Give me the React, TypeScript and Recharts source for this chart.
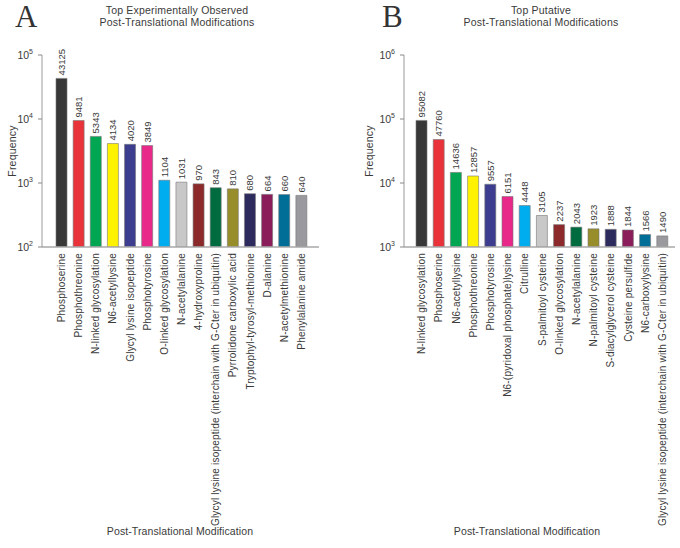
import React from "react"
import { BarChart, Bar, XAxis, YAxis, Cell, LabelList } from "recharts"

const observedCategories = [
  "Phosphoserine",
  "Phosphothreonine",
  "N-linked glycosylation",
  "N6-acetyllysine",
  "Glycyl lysine isopeptide",
  "Phosphotyrosine",
  "O-linked glycosylation",
  "N-acetylalanine",
  "4-hydroxyproline",
  "Glycyl lysine isopeptide (interchain with G-Cter in ubiquitin)",
  "Pyrrolidone carboxylic acid",
  "Tryptophyl-tyrosyl-methionine",
  "D-alanine",
  "N-acetylmethionine",
  "Phenylalanine amide",
]
const observedValues = [43125, 9481, 5343, 4134, 4020, 3849, 1104, 1031, 970, 843, 810, 680, 664, 660, 640]
const observedTicks = [100, 1000, 10000, 100000]

const putativeCategories = [
  "N-linked glycosylation",
  "Phosphoserine",
  "N6-acetyllysine",
  "Phosphothreonine",
  "Phosphotyrosine",
  "N6-(pyridoxal phosphate)lysine",
  "Citrulline",
  "S-palmitoyl cysteine",
  "O-linked glycosylation",
  "N-acetylalanine",
  "N-palmitoyl cysteine",
  "S-diacylglycerol cysteine",
  "Cysteine persulfide",
  "N6-carboxylysine",
  "Glycyl lysine isopeptide (interchain with G-Cter in ubiquitin)",
]
const putativeValues = [95082, 47760, 14636, 12857, 9557, 6151, 4448, 3105, 2237, 2043, 1923, 1888, 1844, 1566, 1490]
const putativeTicks = [1000, 10000, 100000, 1000000]

const barColors = [
  "#383838", "#e8333a", "#00a651", "#fff200", "#3d3d8f",
  "#e8298a", "#00aeef", "#c8c8c8", "#8c2a2b", "#006b3f",
  "#978d2a", "#2d2a5e", "#8c1d5b", "#006e96", "#9a9a9e",
]

const FONT = "'Liberation Sans', Arial, sans-serif"
const TEXT = "#3a3a3a"

function PowerTick(props: any) {
  const { x, y, payload } = props
  const exp = Math.round(Math.log10(payload.value))
  return (
    <text x={x - 3} y={y + 4} textAnchor="end" fontSize={10.5} fill={TEXT} fontFamily={FONT}>
      10
      <tspan dy={-5} fontSize={7}>{exp}</tspan>
    </text>
  )
}

function CategoryTick(props: any) {
  const { x, y, payload } = props
  const ty = y + 6
  return (
    <text
      x={x}
      y={ty}
      transform={`rotate(-90, ${x}, ${ty})`}
      textAnchor="end"
      dominantBaseline="central"
      fontSize={10}
      letterSpacing={0.2}
      fill={TEXT}
      fontFamily={FONT}
    >
      {payload.value}
    </text>
  )
}

function ValueLabel(props: any) {
  const { x, y, width, value } = props
  const cx = x + width / 2
  const cy = y - 3
  return (
    <text
      x={cx}
      y={cy}
      transform={`rotate(-90, ${cx}, ${cy})`}
      textAnchor="start"
      dominantBaseline="central"
      fontSize={9.5}
      fill={TEXT}
      fontFamily={FONT}
    >
      {value}
    </text>
  )
}

function Panel({
  categories, values, ticks, left, right, padLeft, padRight,
}: {
  categories: string[]
  values: number[]
  ticks: number[]
  left: number
  right: number
  padLeft: number
  padRight: number
}) {
  const data = categories.map((name, i) => ({ name, value: values[i] }))
  return (
    <BarChart
      width={340}
      height={548}
      data={data}
      margin={{ top: 55, right, left: 0, bottom: 0 }}
    >
      <XAxis
        dataKey="name"
        interval={0}
        height={301}
        tick={<CategoryTick />}
        tickLine={false}
        tickSize={0}
        tickMargin={0}
        axisLine={{ stroke: "#a8a8a8", strokeWidth: 1.5 }}
        padding={{ left: padLeft, right: padRight }}
      />
      <YAxis
        type="number"
        scale="log"
        domain={[ticks[0], ticks[ticks.length - 1]]}
        ticks={ticks}
        allowDataOverflow
        width={left}
        tick={<PowerTick />}
        tickSize={4}
        tickLine={{ stroke: "#888" }}
        axisLine={{ stroke: "#999" }}
      />
      <YAxis
        yAxisId="frame"
        orientation="right"
        width={0}
        tick={false}
        tickLine={false}
        axisLine={{ stroke: "#999" }}
      />
      <Bar dataKey="value" barSize={11} stroke="#777" strokeWidth={0.6} isAnimationActive={false}>
        {data.map((_, i) => (
          <Cell key={i} fill={barColors[i]} />
        ))}
        <LabelList dataKey="value" content={<ValueLabel />} />
      </Bar>
    </BarChart>
  )
}

export default function App() {
  return (
    <div style={{ position: "fixed", left: 0, top: 0, width: 680, height: 548, background: "#fff" }}>
      <div style={{ position: "absolute", left: 0, top: 0 }}>
        <Panel
          categories={observedCategories}
          values={observedValues}
          ticks={observedTicks}
          left={42}
          right={21}
          padLeft={11}
          padRight={9}
        />
      </div>
      <div style={{ position: "absolute", left: 340, top: 0 }}>
        <Panel
          categories={putativeCategories}
          values={putativeValues}
          ticks={putativeTicks}
          left={64}
          right={5}
          padLeft={9}
          padRight={4}
        />
      </div>
      <svg
        width={680}
        height={548}
        style={{ position: "absolute", left: 0, top: 0, pointerEvents: "none" }}
        fontFamily={FONT}
      >
        <text x={15} y={27} fontSize={31} fontFamily="'Liberation Serif', 'Times New Roman', serif" fill="#333">A</text>
        <text x={382} y={27} fontSize={31} fontFamily="'Liberation Serif', 'Times New Roman', serif" fill="#333">B</text>
        <text x={177} y={14} textAnchor="middle" fontSize={10.5} letterSpacing={0.2} fill={TEXT}>Top Experimentally Observed</text>
        <text x={177} y={26} textAnchor="middle" fontSize={10.5} letterSpacing={0.2} fill={TEXT}>Post-Translational Modifications</text>
        <text x={541} y={14} textAnchor="middle" fontSize={10.5} letterSpacing={0.2} fill={TEXT}>Top Putative</text>
        <text x={541} y={26} textAnchor="middle" fontSize={10.5} letterSpacing={0.2} fill={TEXT}>Post-Translational Modifications</text>
        <text x={12} y={151} transform="rotate(-90, 12, 151)" textAnchor="middle" dominantBaseline="central" fontSize={10.5} letterSpacing={0.2} fill={TEXT}>Frequency</text>
        <text x={369} y={151} transform="rotate(-90, 369, 151)" textAnchor="middle" dominantBaseline="central" fontSize={10.5} letterSpacing={0.2} fill={TEXT}>Frequency</text>
        <text x={180} y={535} textAnchor="middle" fontSize={10.5} letterSpacing={0.1} fill={TEXT}>Post-Translational Modification</text>
        <text x={527} y={535} textAnchor="middle" fontSize={10.5} letterSpacing={0.1} fill={TEXT}>Post-Translational Modification</text>
      </svg>
    </div>
  )
}
